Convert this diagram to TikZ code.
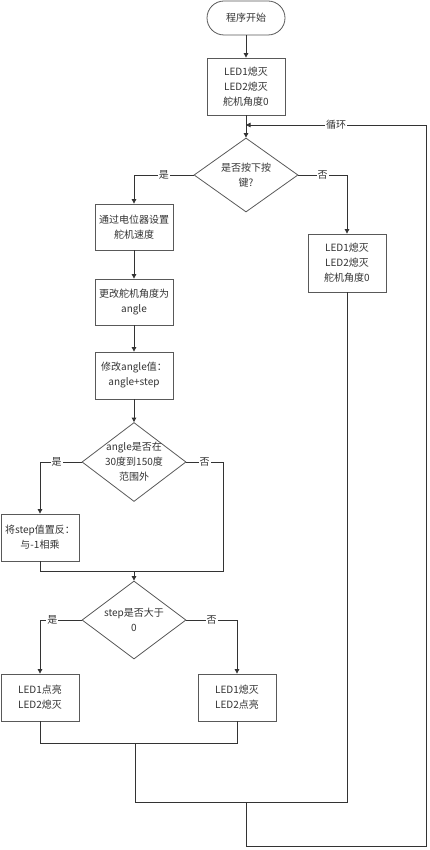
\documentclass[tikz,border=0pt]{standalone}
\usepackage{fontspec}
\setmainfont{Noto Sans CJK SC}
\usetikzlibrary{shapes,arrows.meta}

\begin{document}
\begin{tikzpicture}[x=1pt,y=-1pt]
    \tikzstyle{every node}=[font=\fontsize{10}{15}\selectfont, text=black!80]
    \tikzstyle{proc}=[rectangle, draw=black!65, line width=0.8pt, minimum width=78pt, minimum height=46pt, align=center, fill=white]
    \tikzstyle{term}=[proc, rounded corners=17pt, minimum height=34pt]
    \tikzstyle{decision}=[diamond, draw=black!65, line width=0.8pt, minimum width=104pt, minimum height=78pt, inner sep=-6pt, align=center]
    \tikzstyle{line}=[draw=black!80, line width=0.8pt]
    \tikzstyle{arr}=[line, -{Triangle[length=4.5pt,width=4.5pt]}]
    \tikzstyle{lbl}=[fill=white, inner sep=1pt]
    \useasboundingbox (0,0) rectangle (430,850);
    % nodes
    \node[term] (start) at (246,18) {程序开始};
    \node[proc, minimum height=57pt] (init) at (246,86.5) {LED1熄灭\\LED2熄灭\\舵机角度0};
    \node[decision, minimum height=74pt] (key) at (246,175) {是否按下按\\键?};
    \node[proc] (speed) at (134,227) {通过电位器设置\\舵机速度};
    \node[proc, minimum height=58pt] (reset) at (347,263) {LED1熄灭\\LED2熄灭\\舵机角度0};
    \node[proc] (setang) at (134,302) {更改舵机角度为\\angle};
    \node[proc, minimum height=47pt] (modang) at (134,375.5) {修改angle值：\\ angle+step};
    \node[decision, minimum height=79pt] (range) at (134,462) {angle是否在\\30度到150度\\范围外};
    \node[proc, minimum height=47pt] (flip) at (40,537.5) {将step值置反：\\与-1相乘};
    \node[decision] (dir) at (134,620) {step是否大于\\0};
    \node[proc, minimum height=47pt] (ledon1) at (40,697.5) {LED1点亮\\LED2熄灭};
    \node[proc, minimum height=47pt] (ledon2) at (237,697.5) {LED1熄灭\\LED2点亮};
    % joints
    \coordinate (loopin) at (246,125);
    \coordinate (merge1) at (134,571.5);
    \coordinate (merge2) at (135,743);
    \coordinate (merge3) at (135,802);
    \coordinate (loopdown) at (246,802);
    \coordinate (loopbl) at (246,846);
    \coordinate (looptr) at (426,125);
    % connectors
    \draw[arr] (start) -- (init);
    \draw[arr] (init) -- (key);
    \draw[arr] (key.west) -| node[lbl, pos=0.25]{是} (speed);
    \draw[arr] (key.east) -| node[lbl, pos=0.25]{否} (reset);
    \draw[arr] (speed) -- (setang);
    \draw[arr] (setang) -- (modang);
    \draw[arr] (modang) -- (range);
    \draw[arr] (range.west) -| node[lbl, pos=0.3]{是} (flip);
    \draw[line] (range.east) -| node[lbl, pos=0.25]{否} ([xshift=89pt]merge1) -- (merge1);
    \draw[line] (flip.south) |- (merge1);
    \draw[arr] (merge1) -- (dir);
    \draw[arr] (dir.west) -| node[lbl, pos=0.35]{是} (ledon1);
    \draw[arr] (dir.east) -| node[lbl, pos=0.25]{否} (ledon2);
    \draw[line] (ledon1.south) |- (merge2);
    \draw[line] (ledon2.south) |- (merge2);
    \draw[line] (merge2) -- (merge3);
    \draw[line] (reset.south) |- (merge3);
    \draw[arr] (loopdown) -- (loopbl) -| (looptr) -- node[lbl]{循环} (loopin);
\end{tikzpicture}
\end{document}
